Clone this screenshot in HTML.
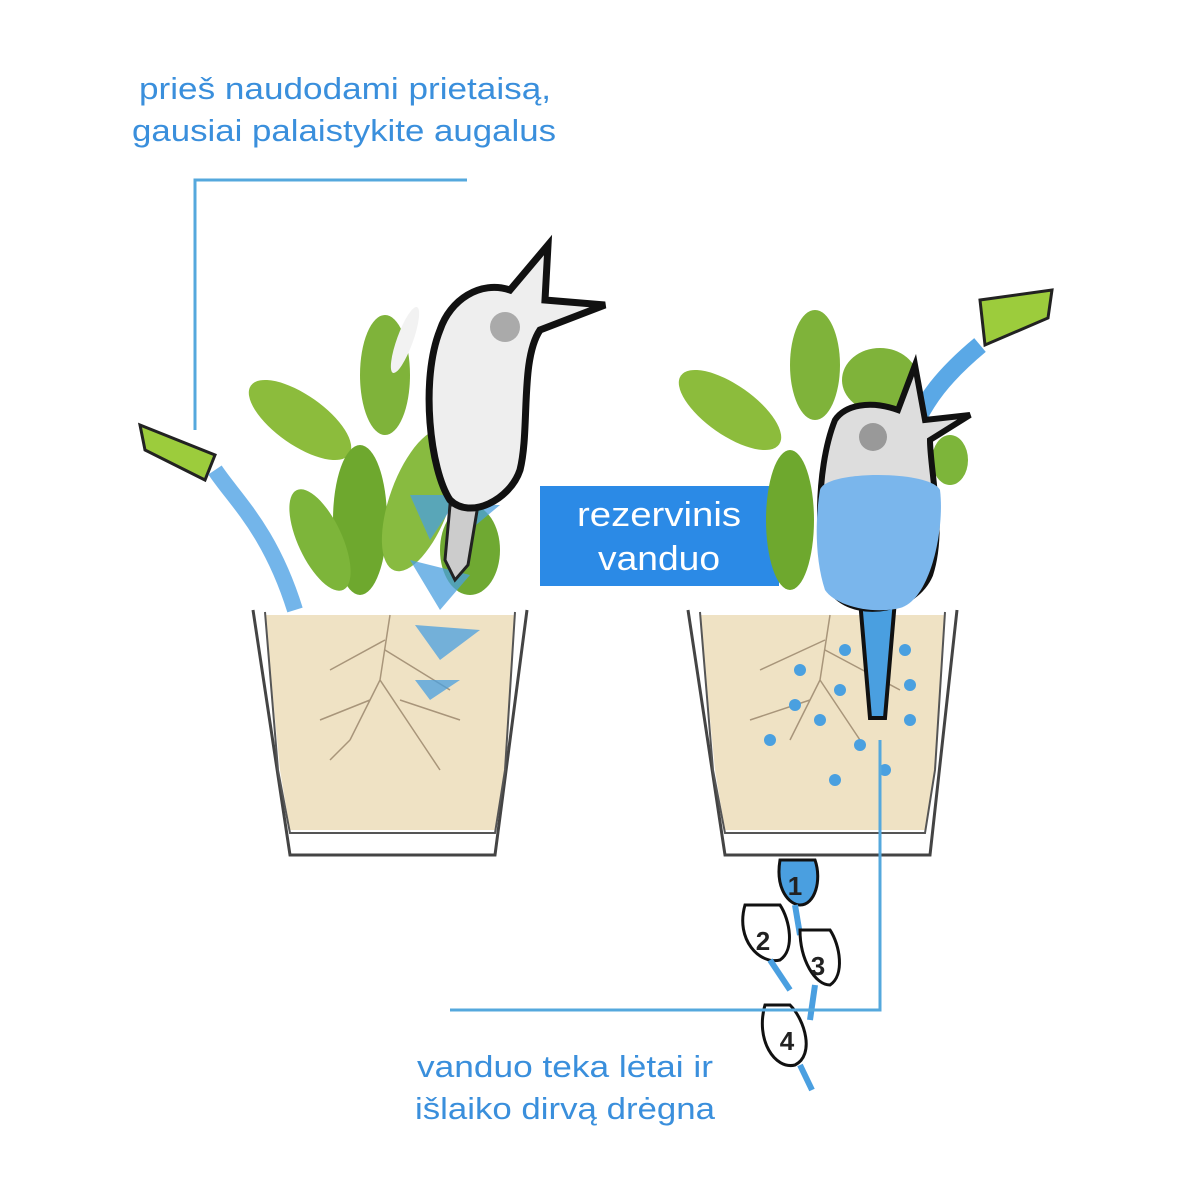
<!DOCTYPE html>
<html><head><meta charset="utf-8"><style>
html,body{margin:0;padding:0;background:#fff}
svg{display:block}
text{font-family:"Liberation Sans",sans-serif}
</style></head><body>
<svg width="1179" height="1179" viewBox="0 0 1179 1179" xmlns="http://www.w3.org/2000/svg">
<rect width="1179" height="1179" fill="#fff"/>
<text x="139" y="99" font-size="31" fill="#3a8fdc" textLength="412" lengthAdjust="spacingAndGlyphs">prieš naudodami prietaisą,</text>
<text x="132" y="141" font-size="31" fill="#3a8fdc" textLength="424" lengthAdjust="spacingAndGlyphs">gausiai palaistykite augalus</text>
<polyline points="467,180 195,180 195,430" fill="none" stroke="#55a8dd" stroke-width="3"/>

<!-- LEFT POT -->
<g>
<ellipse cx="300" cy="420" rx="60" ry="25" transform="rotate(35 300 420)" fill="#8cbc3c"/>
<ellipse cx="385" cy="375" rx="25" ry="60" fill="#7fb33a"/>
<ellipse cx="455" cy="395" rx="20" ry="50" transform="rotate(25 455 395)" fill="#7fb33a"/>
<ellipse cx="360" cy="520" rx="27" ry="75" fill="#6ea82e"/>
<ellipse cx="420" cy="500" rx="30" ry="75" transform="rotate(20 420 500)" fill="#88bb40"/>
<ellipse cx="320" cy="540" rx="22" ry="55" transform="rotate(-25 320 540)" fill="#7db53a"/>
<ellipse cx="470" cy="550" rx="30" ry="45" fill="#6fa932"/>
<ellipse cx="405" cy="340" rx="8" ry="35" transform="rotate(20 405 340)" fill="#f2f2f2"/>
<path d="M253 610 L290 855 L495 855 L527 610" fill="none" stroke="#444" stroke-width="3"/>
<path d="M265 615 L515 615 L505 770 L495 830 L290 830 L280 770 Z" fill="#efe2c4"/>
<path d="M265 612 L278 770 L290 833 L495 833 L505 770 L515 612" fill="none" stroke="#555" stroke-width="2"/>
<g stroke="#a8957a" stroke-width="1.5" fill="none">
<path d="M390 615 L380 680 L350 740 M380 680 L420 740 M385 640 L330 670 M385 650 L450 690 M370 700 L320 720 M400 700 L460 720 M350 740 L330 760 M420 740 L440 770"/>
</g>
<g fill="#4aa0e0" opacity="0.75">
<polygon points="410,495 460,495 430,540"/>
<polygon points="450,505 500,505 470,530"/>
<polygon points="410,560 470,575 440,610"/>
<polygon points="415,625 480,630 440,660"/>
<polygon points="415,680 460,680 430,700"/>
</g>
<polygon points="140,425 215,455 205,480 145,450" fill="#9ccc3c" stroke="#222" stroke-width="3"/>
<path d="M215 470 C235 500 270 530 295 610" stroke="#5aa8e6" stroke-width="16" fill="none" opacity="0.85"/>
<path d="M450 505 L445 560 L455 580 L468 565 L478 505 Z" fill="#ccc" stroke="#222" stroke-width="3"/>
<path d="M440 330 C420 380 430 470 450 500 C470 520 510 500 520 470 C530 430 520 360 540 330 L605 305 L545 300 L548 245 L510 290 C480 280 450 300 440 330 Z" fill="#eee" stroke="#111" stroke-width="7"/>
<circle cx="505" cy="327" r="15" fill="#aaa"/>
</g>

<rect x="540" y="486" width="239" height="100" fill="#2b8ae6"/>
<text x="577" y="526" font-size="34" fill="#fff" textLength="164" lengthAdjust="spacingAndGlyphs">rezervinis</text>
<text x="598" y="570" font-size="34" fill="#fff" textLength="122" lengthAdjust="spacingAndGlyphs">vanduo</text>

<!-- RIGHT POT -->
<g>
<ellipse cx="730" cy="410" rx="60" ry="25" transform="rotate(35 730 410)" fill="#8cbc3c"/>
<ellipse cx="815" cy="365" rx="25" ry="55" fill="#7fb33a"/>
<ellipse cx="880" cy="380" rx="38" ry="32" fill="#7fb33a"/>
<ellipse cx="790" cy="520" rx="24" ry="70" fill="#6ea82e"/>
<ellipse cx="950" cy="460" rx="18" ry="25" fill="#7db53a"/>
<path d="M688 610 L725 855 L930 855 L957 610" fill="none" stroke="#444" stroke-width="3"/>
<path d="M700 615 L945 615 L935 770 L925 830 L725 830 L715 770 Z" fill="#efe2c4"/>
<path d="M700 612 L713 770 L725 833 L925 833 L935 770 L945 612" fill="none" stroke="#555" stroke-width="2"/>
<g stroke="#a8957a" stroke-width="1.5" fill="none">
<path d="M830 615 L820 680 L790 740 M820 680 L860 740 M825 640 L760 670 M825 650 L900 690 M810 700 L750 720"/>
</g>
<g fill="#4aa0e0">
<circle cx="800" cy="670" r="6"/><circle cx="845" cy="650" r="6"/><circle cx="905" cy="650" r="6"/>
<circle cx="795" cy="705" r="6"/><circle cx="840" cy="690" r="6"/><circle cx="910" cy="685" r="6"/>
<circle cx="820" cy="720" r="6"/><circle cx="910" cy="720" r="6"/><circle cx="770" cy="740" r="6"/>
<circle cx="860" cy="745" r="6"/><circle cx="835" cy="780" r="6"/><circle cx="885" cy="770" r="6"/>
</g>
<polygon points="980,300 1052,290 1048,318 985,345" fill="#9ccc3c" stroke="#222" stroke-width="3"/>
<path d="M980 345 C950 370 920 400 905 450" stroke="#5aa8e6" stroke-width="18" fill="none"/>
<path d="M860 600 L870 718 L885 718 L895 600 Z" fill="#4a9fe0" stroke="#111" stroke-width="4"/>
<path d="M835 420 C815 470 815 560 835 595 C860 620 915 610 930 575 C945 530 930 470 930 440 L970 415 L925 420 L915 365 L898 410 C870 400 845 405 835 420 Z" fill="#ddd" stroke="#111" stroke-width="6"/>
<path d="M820 490 C825 470 930 470 940 490 C945 530 930 600 900 608 C870 615 835 605 825 590 C815 560 815 520 820 490 Z" fill="#7ab6ec"/>
<circle cx="873" cy="437" r="14" fill="#999"/>
</g>

<g stroke="#111" stroke-width="3">
<path d="M780 860 C775 890 790 905 800 905 C815 905 822 880 815 860 Z" fill="#4a9fe0"/>
<path d="M795 905 L800 935" stroke="#4a9fe0" stroke-width="6"/>
<path d="M745 905 C735 940 760 965 780 960 C795 950 790 920 780 905 Z" fill="#fff"/>
<path d="M770 960 L790 990" stroke="#4a9fe0" stroke-width="6"/>
<path d="M800 930 C800 960 815 985 830 985 C845 975 840 945 830 930 Z" fill="#fff"/>
<path d="M815 985 L810 1020" stroke="#4a9fe0" stroke-width="6"/>
<path d="M765 1005 C755 1040 775 1070 795 1065 C815 1055 805 1020 790 1005 Z" fill="#fff"/>
<path d="M800 1065 L812 1090" stroke="#4a9fe0" stroke-width="6"/>
</g>
<g font-size="26" font-weight="bold" fill="#222" text-anchor="middle">
<text x="795" y="895">1</text><text x="763" y="950">2</text><text x="818" y="975">3</text><text x="787" y="1050">4</text>
</g>
<polyline points="880,740 880,1010 450,1010" fill="none" stroke="#55a8dd" stroke-width="3"/>
<text x="417" y="1077" font-size="31" fill="#3a8fdc" textLength="296" lengthAdjust="spacingAndGlyphs">vanduo teka lėtai ir</text>
<text x="415" y="1119" font-size="31" fill="#3a8fdc" textLength="300" lengthAdjust="spacingAndGlyphs">išlaiko dirvą drėgna</text>
</svg>
</body></html>
